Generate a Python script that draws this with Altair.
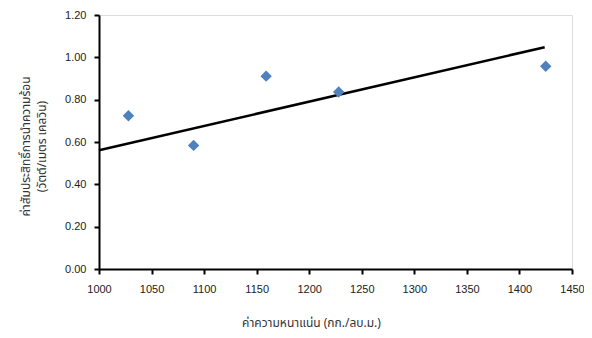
import altair as alt
import pandas as pd

density = [1028, 1090, 1159, 1228, 1425]
conductivity = [0.724, 0.584, 0.911, 0.836, 0.958]
trend_x = [1000, 1424]
trend_y = [0.561, 1.048]
x_ticks = list(range(1000, 1451, 50))
y_ticks = [0.0, 0.2, 0.4, 0.6, 0.8, 1.0, 1.2]

pts = pd.DataFrame({"x": density, "y": conductivity})
tr = pd.DataFrame({"x": trend_x, "y": trend_y})

thai_font = "Tahoma, Noto Sans Thai, Noto Sans, sans-serif"

xscale = alt.Scale(domain=[1000, 1450], nice=False, zero=False)
yscale = alt.Scale(domain=[0, 1.2], nice=False)

xaxis = alt.Axis(
    title="ค่าความหนาแน่น (กก./ลบ.ม.)",
    values=x_ticks, format="d", grid=False, labelFlush=False, labelOverlap=False,
    domainColor="black", domainWidth=2, tickColor="black", tickWidth=2, tickSize=5,
    labelFont="Liberation Sans", labelFontSize=11, labelColor="#222222", labelPadding=9,
    titleFont=thai_font, titleFontSize=12, titleFontWeight="normal", titleColor="#333333",
    titleX=212, titleY=53, titleAlign="center", titleBaseline="middle", titleAnchor="start",
)
yaxis = alt.Axis(
    title=["ค่าสัมประสิทธิ์การนำความร้อน", "(วัตต์/เมตร เคลวิน)"],
    values=y_ticks, format=".2f", grid=False, labelFlush=False, labelOverlap=False,
    domainColor="black", domainWidth=2, tickColor="black", tickWidth=2, tickSize=5,
    labelFont="Liberation Sans", labelFontSize=11, labelColor="#222222", labelPadding=8,
    titleFont=thai_font, titleFontSize=12, titleFontWeight="normal", titleColor="#333333",
    titleLineHeight=16, titleAngle=-90, titleX=-79, titleY=131,
    titleAlign="center", titleBaseline="top", titleAnchor="start",
)

points = alt.Chart(pts).mark_point(
    shape="diamond", filled=True, color="#4F81BD", size=130, opacity=1
).encode(
    x=alt.X("x:Q", scale=xscale, axis=xaxis),
    y=alt.Y("y:Q", scale=yscale, axis=yaxis),
)

line = alt.Chart(tr).mark_line(color="black", strokeWidth=2.5).encode(
    x=alt.X("x:Q", scale=xscale),
    y=alt.Y("y:Q", scale=yscale),
)

chart = alt.layer(line, points).properties(
    width=473, height=254,
    autosize=alt.AutoSizeParams(type="none"),
    padding={"left": 91, "top": 7, "right": 12, "bottom": 61},
).configure_view(stroke=None).configure(background="white")

chart.save("out.html", embed_options={"renderer": "svg", "actions": False})
